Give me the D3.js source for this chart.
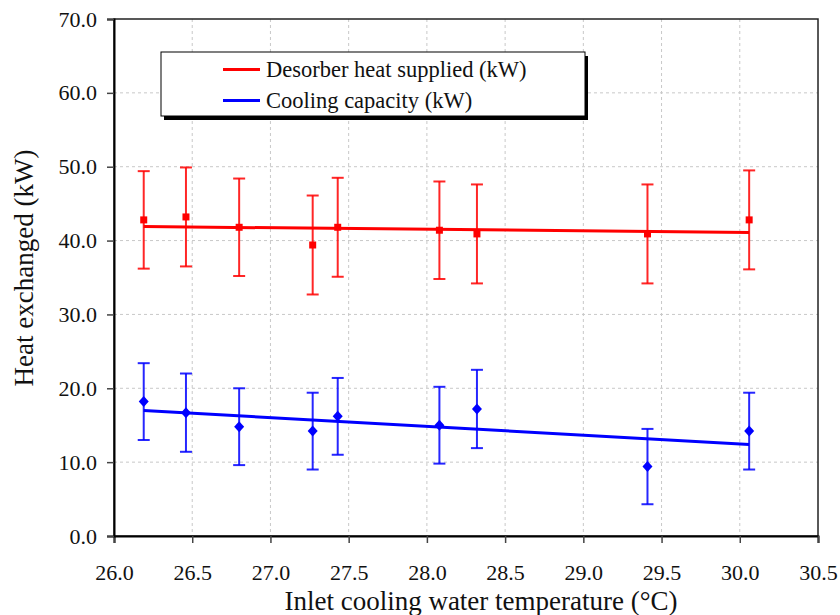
<!DOCTYPE html>
<html>
<head>
<meta charset="utf-8">
<script src="https://cdn.jsdelivr.net/npm/d3@7"></script>
<style>
  body { margin: 0; background: #fff; }
  svg text { font-family: "Liberation Serif", "Times New Roman", serif; }
</style>
</head>
<body>
<div id="chart"></div>
<script>
// inlet cooling water temperature (°C)
const temps = [26.19, 26.46, 26.80, 27.27, 27.43, 28.08, 28.32, 29.41, 30.06];

// desorber heat supplied (kW) and error
const desorber = [42.8, 43.2, 41.8, 39.4, 41.8, 41.4, 40.9, 40.9, 42.8];
const desorberErr = [6.6, 6.7, 6.6, 6.7, 6.7, 6.6, 6.7, 6.7, 6.7];
const desorberFit = [41.9, 41.1];

// cooling capacity (kW) and error
const cooling = [18.2, 16.7, 14.8, 14.2, 16.2, 15.0, 17.2, 9.4, 14.2];
const coolingErr = [5.2, 5.3, 5.2, 5.2, 5.2, 5.2, 5.3, 5.1, 5.2];
const coolingFit = [17.0, 12.4];

const xTicks = [26.0, 26.5, 27.0, 27.5, 28.0, 28.5, 29.0, 29.5, 30.0, 30.5];
const yTicks = [0, 10, 20, 30, 40, 50, 60, 70];

const legendLabels = ["Desorber heat supplied (kW)", "Cooling capacity (kW)"];

const serif = "'Liberation Serif', 'Times New Roman', serif";

const W = 840, H = 615;
const margin = { top: 19, right: 22, bottom: 79, left: 114 };
const width = W - margin.left - margin.right,
      height = H - margin.top - margin.bottom;

let x = d3.scaleLinear().domain([26, 30.5]).range([0, width]);
let y = d3.scaleLinear().domain([0, 70]).range([height, 0]);

let svg = d3.select("#chart").append("svg")
    .attr("width", W)
    .attr("height", H);

let g = svg.append("g")
    .attr("transform", "translate(" + margin.left + "," + margin.top + ")");

// grid
g.append("g").selectAll("line")
    .data(xTicks.slice(1, -1))
    .join("line")
    .attr("x1", d => x(d)).attr("x2", d => x(d))
    .attr("y1", 0).attr("y2", height)
    .attr("stroke", "#c8c8c8").attr("stroke-dasharray", "3,3");

g.append("g").selectAll("line")
    .data(yTicks.slice(1, -1))
    .join("line")
    .attr("x1", 0).attr("x2", width)
    .attr("y1", d => y(d)).attr("y2", d => y(d))
    .attr("stroke", "#c8c8c8").attr("stroke-dasharray", "3,3");

// frame
g.append("rect")
    .attr("width", width).attr("height", height)
    .attr("fill", "none").attr("stroke", "#222").attr("stroke-width", 1.5);

// axes
let xAxis = g.append("g")
    .attr("transform", "translate(0," + height + ")")
    .call(d3.axisBottom(x).tickValues(xTicks).tickFormat(d3.format(".1f")).tickSize(7).tickPadding(21));

let yAxis = g.append("g")
    .call(d3.axisLeft(y).tickValues(yTicks).tickFormat(d3.format(".1f")).tickSize(7).tickPadding(10));

[xAxis, yAxis].forEach(a => {
    a.attr("font-family", null);
    a.select(".domain").attr("stroke", "#000").attr("stroke-width", 2);
    a.selectAll(".tick line").attr("stroke", "#444").attr("stroke-width", 1.5);
    a.selectAll("text")
        .style("font-family", serif)
        .attr("font-size", 22).attr("fill", "#111");
});

// axis titles
svg.append("text")
    .attr("x", margin.left + width / 2 + 15)
    .attr("y", 610)
    .attr("text-anchor", "middle")
    .style("font-family", serif)
    .attr("font-size", 27)
    .attr("fill", "#111")
    .text("Inlet cooling water temperature (°C)");

svg.append("text")
    .attr("transform", "translate(33,268) rotate(-90)")
    .attr("text-anchor", "middle")
    .style("font-family", serif)
    .attr("font-size", 27)
    .attr("fill", "#111")
    .text("Heat exchanged (kW)");

// series
function drawSeries(vals, errs, fit, color, marker) {
    let s = g.append("g");
    let pts = temps.map((t, i) => ({ t: t, v: vals[i], e: errs[i] }));

    s.selectAll(".err").data(pts).join("line")
        .attr("x1", d => x(d.t)).attr("x2", d => x(d.t))
        .attr("y1", d => y(d.v + d.e)).attr("y2", d => y(d.v - d.e))
        .attr("stroke", color).attr("stroke-width", 2).attr("stroke-opacity", 0.85);

    [1, -1].forEach(sign => {
        s.selectAll(".cap" + sign).data(pts).join("line")
            .attr("x1", d => x(d.t) - 6).attr("x2", d => x(d.t) + 6)
            .attr("y1", d => y(d.v + sign * d.e)).attr("y2", d => y(d.v + sign * d.e))
            .attr("stroke", color).attr("stroke-width", 2).attr("stroke-opacity", 0.85);
    });

    s.append("line")
        .attr("x1", x(temps[0])).attr("x2", x(temps[temps.length - 1]))
        .attr("y1", y(fit[0])).attr("y2", y(fit[1]))
        .attr("stroke", color).attr("stroke-width", 3);

    s.selectAll(".pt").data(pts).join("path")
        .attr("transform", d => "translate(" + x(d.t) + "," + y(d.v) + ")")
        .attr("d", marker)
        .attr("fill", color);
}

drawSeries(desorber, desorberErr, desorberFit, "#ff0000", d3.symbol(d3.symbolSquare, 49)());
drawSeries(cooling, coolingErr, coolingFit, "#0000ff", "M0,-5.5L5,0L0,5.5L-5,0Z");

// legend
let lg = svg.append("g").attr("transform", "translate(161,52)");
lg.append("rect")
    .attr("x", 3).attr("y", 4)
    .attr("width", 424).attr("height", 64)
    .attr("fill", "#000");
lg.append("rect")
    .attr("width", 424).attr("height", 64)
    .attr("fill", "#fff").attr("stroke", "#000").attr("stroke-width", 1);

let colors = ["#ff0000", "#0000ff"];
legendLabels.forEach((lab, i) => {
    let yy = 17.5 + i * 31;
    lg.append("line")
        .attr("x1", 62).attr("x2", 99)
        .attr("y1", yy).attr("y2", yy)
        .attr("stroke", colors[i]).attr("stroke-width", 3);
    lg.append("text")
        .attr("x", 105).attr("y", yy + 7.5)
        .style("font-family", serif)
        .attr("font-size", 22.5)
        .attr("fill", "#111")
        .text(lab);
});
</script>
</body>
</html>
